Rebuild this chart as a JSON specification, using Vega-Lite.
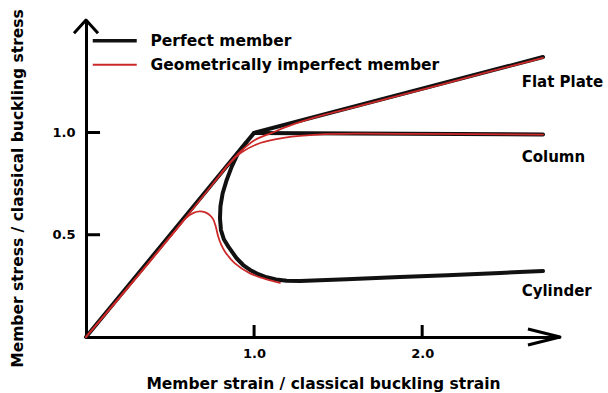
{
  "$schema": "https://vega.github.io/schema/vega-lite/v6.json",
  "width": 474,
  "height": 317,
  "autosize": {"type": "none"},
  "padding": {"left": 86, "top": 20, "right": 48, "bottom": 56},
  "background": "white",
  "config": {"view": {"stroke": null}, "font": "DejaVu Sans"},
  "datasets": {
    "curves": [
      {"member": "Perfect member", "branch": "P-plate", "i": 0, "strain": 0, "stress": 0},
      {"member": "Perfect member", "branch": "P-plate", "i": 1, "strain": 1.0, "stress": 0.998},
      {"member": "Perfect member", "branch": "P-plate", "i": 2, "strain": 2.719, "stress": 1.369},
      {"member": "Perfect member", "branch": "P-col", "i": 0, "strain": 1.0, "stress": 0.998},
      {"member": "Perfect member", "branch": "P-col", "i": 1, "strain": 2.719, "stress": 0.99},
      {"member": "Perfect member", "branch": "P-cyl", "i": 0, "strain": 0.95, "stress": 0.948},
      {"member": "Perfect member", "branch": "P-cyl", "i": 1, "strain": 0.905, "stress": 0.9},
      {"member": "Perfect member", "branch": "P-cyl", "i": 2, "strain": 0.867, "stress": 0.833},
      {"member": "Perfect member", "branch": "P-cyl", "i": 3, "strain": 0.837, "stress": 0.768},
      {"member": "Perfect member", "branch": "P-cyl", "i": 4, "strain": 0.813, "stress": 0.703},
      {"member": "Perfect member", "branch": "P-cyl", "i": 5, "strain": 0.8, "stress": 0.64},
      {"member": "Perfect member", "branch": "P-cyl", "i": 6, "strain": 0.797, "stress": 0.58},
      {"member": "Perfect member", "branch": "P-cyl", "i": 7, "strain": 0.803, "stress": 0.523},
      {"member": "Perfect member", "branch": "P-cyl", "i": 8, "strain": 0.82, "stress": 0.478},
      {"member": "Perfect member", "branch": "P-cyl", "i": 9, "strain": 0.847, "stress": 0.442},
      {"member": "Perfect member", "branch": "P-cyl", "i": 10, "strain": 0.896, "stress": 0.385},
      {"member": "Perfect member", "branch": "P-cyl", "i": 11, "strain": 0.935, "stress": 0.352},
      {"member": "Perfect member", "branch": "P-cyl", "i": 12, "strain": 0.976, "stress": 0.328},
      {"member": "Perfect member", "branch": "P-cyl", "i": 13, "strain": 1.025, "stress": 0.307},
      {"member": "Perfect member", "branch": "P-cyl", "i": 14, "strain": 1.075, "stress": 0.292},
      {"member": "Perfect member", "branch": "P-cyl", "i": 15, "strain": 1.13, "stress": 0.281},
      {"member": "Perfect member", "branch": "P-cyl", "i": 16, "strain": 1.194, "stress": 0.275},
      {"member": "Perfect member", "branch": "P-cyl", "i": 17, "strain": 1.273, "stress": 0.274},
      {"member": "Perfect member", "branch": "P-cyl", "i": 18, "strain": 1.55, "stress": 0.282},
      {"member": "Perfect member", "branch": "P-cyl", "i": 19, "strain": 1.868, "stress": 0.293},
      {"member": "Perfect member", "branch": "P-cyl", "i": 20, "strain": 2.15, "stress": 0.302},
      {"member": "Perfect member", "branch": "P-cyl", "i": 21, "strain": 2.463, "stress": 0.313},
      {"member": "Perfect member", "branch": "P-cyl", "i": 22, "strain": 2.719, "stress": 0.323},
      {"member": "Geometrically imperfect member", "branch": "I-plate", "i": 0, "strain": 0, "stress": 0},
      {"member": "Geometrically imperfect member", "branch": "I-plate", "i": 1, "strain": 0.3, "stress": 0.292},
      {"member": "Geometrically imperfect member", "branch": "I-plate", "i": 2, "strain": 0.6, "stress": 0.59},
      {"member": "Geometrically imperfect member", "branch": "I-plate", "i": 3, "strain": 0.8, "stress": 0.795},
      {"member": "Geometrically imperfect member", "branch": "I-plate", "i": 4, "strain": 0.847, "stress": 0.843},
      {"member": "Geometrically imperfect member", "branch": "I-plate", "i": 5, "strain": 0.926, "stress": 0.912},
      {"member": "Geometrically imperfect member", "branch": "I-plate", "i": 6, "strain": 1.005, "stress": 0.963},
      {"member": "Geometrically imperfect member", "branch": "I-plate", "i": 7, "strain": 1.105, "stress": 0.998},
      {"member": "Geometrically imperfect member", "branch": "I-plate", "i": 8, "strain": 1.224, "stress": 1.037},
      {"member": "Geometrically imperfect member", "branch": "I-plate", "i": 9, "strain": 1.4, "stress": 1.082},
      {"member": "Geometrically imperfect member", "branch": "I-plate", "i": 10, "strain": 1.6, "stress": 1.124},
      {"member": "Geometrically imperfect member", "branch": "I-plate", "i": 11, "strain": 2.0, "stress": 1.21},
      {"member": "Geometrically imperfect member", "branch": "I-plate", "i": 12, "strain": 2.4, "stress": 1.297},
      {"member": "Geometrically imperfect member", "branch": "I-plate", "i": 13, "strain": 2.719, "stress": 1.365},
      {"member": "Geometrically imperfect member", "branch": "I-col", "i": 0, "strain": 0.8, "stress": 0.795},
      {"member": "Geometrically imperfect member", "branch": "I-col", "i": 1, "strain": 0.847, "stress": 0.843},
      {"member": "Geometrically imperfect member", "branch": "I-col", "i": 2, "strain": 0.926, "stress": 0.903},
      {"member": "Geometrically imperfect member", "branch": "I-col", "i": 3, "strain": 1.025, "stress": 0.945},
      {"member": "Geometrically imperfect member", "branch": "I-col", "i": 4, "strain": 1.124, "stress": 0.966},
      {"member": "Geometrically imperfect member", "branch": "I-col", "i": 5, "strain": 1.224, "stress": 0.98},
      {"member": "Geometrically imperfect member", "branch": "I-col", "i": 6, "strain": 1.38, "stress": 0.99},
      {"member": "Geometrically imperfect member", "branch": "I-col", "i": 7, "strain": 1.6, "stress": 0.994},
      {"member": "Geometrically imperfect member", "branch": "I-col", "i": 8, "strain": 2.0, "stress": 0.993},
      {"member": "Geometrically imperfect member", "branch": "I-col", "i": 9, "strain": 2.719, "stress": 0.99},
      {"member": "Geometrically imperfect member", "branch": "I-cyl", "i": 0, "strain": 0, "stress": 0},
      {"member": "Geometrically imperfect member", "branch": "I-cyl", "i": 1, "strain": 0.3, "stress": 0.29},
      {"member": "Geometrically imperfect member", "branch": "I-cyl", "i": 2, "strain": 0.55, "stress": 0.538},
      {"member": "Geometrically imperfect member", "branch": "I-cyl", "i": 3, "strain": 0.599, "stress": 0.585},
      {"member": "Geometrically imperfect member", "branch": "I-cyl", "i": 4, "strain": 0.64, "stress": 0.607},
      {"member": "Geometrically imperfect member", "branch": "I-cyl", "i": 5, "strain": 0.678, "stress": 0.614},
      {"member": "Geometrically imperfect member", "branch": "I-cyl", "i": 6, "strain": 0.71, "stress": 0.609},
      {"member": "Geometrically imperfect member", "branch": "I-cyl", "i": 7, "strain": 0.738, "stress": 0.595},
      {"member": "Geometrically imperfect member", "branch": "I-cyl", "i": 8, "strain": 0.757, "stress": 0.575},
      {"member": "Geometrically imperfect member", "branch": "I-cyl", "i": 9, "strain": 0.772, "stress": 0.54},
      {"member": "Geometrically imperfect member", "branch": "I-cyl", "i": 10, "strain": 0.787, "stress": 0.49},
      {"member": "Geometrically imperfect member", "branch": "I-cyl", "i": 11, "strain": 0.805, "stress": 0.45},
      {"member": "Geometrically imperfect member", "branch": "I-cyl", "i": 12, "strain": 0.827, "stress": 0.417},
      {"member": "Geometrically imperfect member", "branch": "I-cyl", "i": 13, "strain": 0.886, "stress": 0.36},
      {"member": "Geometrically imperfect member", "branch": "I-cyl", "i": 14, "strain": 0.976, "stress": 0.311},
      {"member": "Geometrically imperfect member", "branch": "I-cyl", "i": 15, "strain": 1.075, "stress": 0.282},
      {"member": "Geometrically imperfect member", "branch": "I-cyl", "i": 16, "strain": 1.154, "stress": 0.265}
    ],
    "labels": [
      {"label": "Flat Plate", "strain": 2.592, "stress": 1.247},
      {"label": "Column", "strain": 2.592, "stress": 0.88},
      {"label": "Cylinder", "strain": 2.592, "stress": 0.225}
    ],
    "guides": [
      {"dir": "up", "strain": 0, "stress": 1.55},
      {"dir": "right", "strain": 2.82, "stress": 0},
      {"dir": "xtick", "strain": 1, "stress": 0},
      {"dir": "xtick", "strain": 2, "stress": 0},
      {"dir": "ytick", "strain": 0, "stress": 0.5},
      {"dir": "ytick", "strain": 0, "stress": 1}
    ]
  },
  "layer": [
    {
      "data": {"name": "curves"},
      "transform": [{"filter": "datum.member === 'Perfect member'"}],
      "mark": {"type": "line", "strokeWidth": 4, "strokeCap": "round", "strokeJoin": "round"},
      "encoding": {
        "x": {
          "field": "strain", "type": "quantitative",
          "scale": {"domain": [0, 2.82], "nice": false, "zero": false},
          "axis": {
            "values": [1, 2], "format": ".1f", "grid": false, "ticks": false, "tickSize": 0,
            "title": "Member strain / classical buckling strain",
            "domainColor": "black", "domainWidth": 3,
            "labelPadding": 10, "labelFont": "DejaVu Sans", "labelFontWeight": "bold", "labelFontSize": 13, "labelColor": "black",
            "titleFont": "DejaVu Sans", "titleFontWeight": "bold", "titleFontSize": 15.5, "titleColor": "black",
            "titleX": 237, "titleY": 46, "titleBaseline": "middle", "titleAlign": "center"
          }
        },
        "y": {
          "field": "stress", "type": "quantitative",
          "scale": {"domain": [0, 1.55], "nice": false, "zero": false},
          "axis": {
            "values": [0.5, 1], "format": ".1f", "grid": false, "ticks": false, "tickSize": 0,
            "title": "Member stress / classical buckling stress",
            "domainColor": "black", "domainWidth": 3,
            "labelPadding": 11, "labelFont": "DejaVu Sans", "labelFontWeight": "bold", "labelFontSize": 13, "labelColor": "black",
            "titleFont": "DejaVu Sans", "titleFontWeight": "bold", "titleFontSize": 15.5, "titleColor": "black",
            "titleX": -69, "titleY": 168, "titleBaseline": "middle", "titleAlign": "center", "titleAngle": -90
          }
        },
        "color": {
          "field": "member", "type": "nominal",
          "scale": {"domain": ["Perfect member", "Geometrically imperfect member"], "range": ["#111111", "#cc2a2a"]},
          "legend": {
            "orient": "none", "legendX": 21, "legendY": 13, "title": null,
            "symbolType": "M-2,0H2", "symbolSize": 484, "symbolStrokeWidth": 3,
            "labelOffset": 28, "rowPadding": 7, "padding": 0, "labelLimit": 0,
            "labelFont": "DejaVu Sans", "labelFontWeight": "bold", "labelFontSize": 15.5, "labelColor": "black",
            "encode": {"symbols": {"update": {"strokeWidth": {"signal": "datum.value === 'Perfect member' ? 3.5 : 2"}}}}
          }
        },
        "detail": {"field": "branch", "type": "nominal"},
        "order": {"field": "i", "type": "quantitative"}
      }
    },
    {
      "data": {"name": "curves"},
      "transform": [{"filter": "datum.member !== 'Perfect member'"}],
      "mark": {"type": "line", "strokeWidth": 1.8, "strokeCap": "round", "strokeJoin": "round", "interpolate": "catmull-rom"},
      "encoding": {
        "x": {"field": "strain", "type": "quantitative"},
        "y": {"field": "stress", "type": "quantitative"},
        "color": {"field": "member", "type": "nominal"},
        "detail": {"field": "branch", "type": "nominal"},
        "order": {"field": "i", "type": "quantitative"}
      }
    },
    {
      "data": {"name": "labels"},
      "mark": {"type": "text", "align": "left", "baseline": "middle", "font": "DejaVu Sans", "fontWeight": "bold", "fontSize": 15, "color": "black"},
      "encoding": {
        "x": {"field": "strain", "type": "quantitative"},
        "y": {"field": "stress", "type": "quantitative"},
        "text": {"field": "label", "type": "nominal"}
      }
    },
    {
      "data": {"name": "guides"},
      "mark": {"type": "point", "filled": false, "stroke": "black", "strokeWidth": 3, "size": 576, "opacity": 1, "strokeCap": "butt", "strokeJoin": "round"},
      "encoding": {
        "x": {"field": "strain", "type": "quantitative"},
        "y": {"field": "stress", "type": "quantitative"},
        "shape": {
          "field": "dir", "type": "nominal",
          "scale": {"domain": ["up", "right", "xtick", "ytick"], "range": ["M-1,1.1L0,0L1,1.1", "M-2.67,-0.67L0,0L-2.67,0.67", "M0,0V-1", "M0,0H1.17"]},
          "legend": null
        }
      }
    }
  ]
}
